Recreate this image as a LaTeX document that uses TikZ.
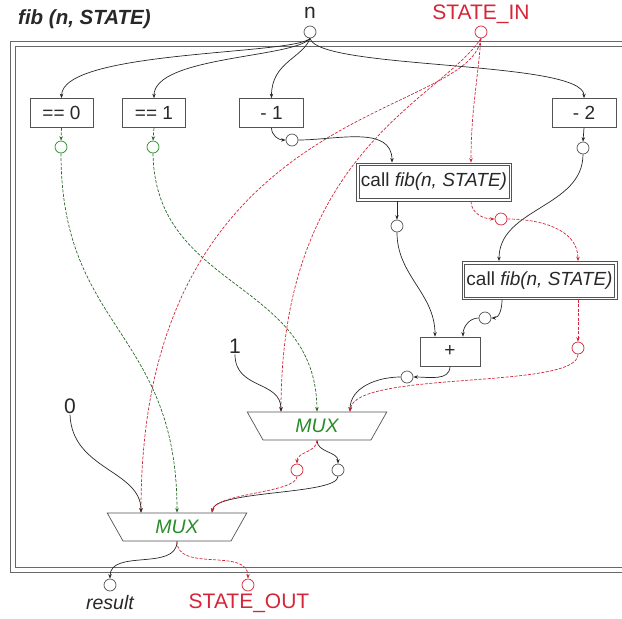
\documentclass[tikz,border=0pt]{standalone}
\usepackage{fontspec}
\setmainfont{Liberation Sans}
\usetikzlibrary{arrows.meta,shapes.geometric,calc,fit}
\definecolor{sred}{RGB}{212,38,56}
\definecolor{sgreen}{RGB}{40,140,40}
\definecolor{sgdash}{RGB}{40,105,40}
\definecolor{ink}{RGB}{40,40,40}
\begin{document}
\begin{tikzpicture}[x=1pt,y=-1pt,
 tip/.style={-{Stealth[length=4.5pt,width=3.5pt]}},
 wire/.style={draw=ink,line width=0.7pt,tip},
 rwire/.style={draw=sred,line width=0.7pt,dash pattern=on 3pt off 1.5pt,tip},
 gwire/.style={draw=sgdash,line width=0.7pt,dash pattern=on 3pt off 1.5pt,tip},
 box/.style={draw=ink!80,line width=0.7pt,minimum height=29pt,inner sep=2pt,font=\fontsize{19}{21}\selectfont,text=ink},
 callbox/.style={box,minimum height=33pt},
 outerbox/.style={draw=ink!80,line width=0.7pt,inner sep=2.2pt},
 port/.style={circle,draw=ink!80,line width=0.7pt,minimum size=12pt,inner sep=0pt,fill=white},
 rport/.style={port,draw=sred},
 gport/.style={port,draw=sgreen},
 lbl/.style={font=\fontsize{21}{23}\selectfont,text=ink,inner sep=1pt},
 mux/.style={trapezium,shape border rotate=180,trapezium stretches=true,draw=ink!80,line width=0.7pt,minimum width=140pt,minimum height=28pt,trapezium angle=65,font=\fontsize{19.5}{21}\selectfont\itshape,text=sgreen,inner sep=0pt}
]
\useasboundingbox (0,0) rectangle (622,619);
% outer frame
\draw[draw=ink!70,line width=0.8pt] (10,41) rectangle (640,572);
\draw[draw=ink!70,line width=0.8pt] (15,46) rectangle (640,567);

\node[lbl,font=\fontsize{20.5}{22}\selectfont\bfseries\itshape,anchor=west] (title) at (17,19) {fib (n, STATE)};
\node[lbl] (nlab) at (310,13) {n};
\node[port] (nin) at (310,32) {};
\node[lbl,text=sred] (silab) at (481,14) {STATE\_IN};
\node[rport] (sin) at (481,32) {};

\node[box,minimum width=63pt] (e0) at (61.5,113) {== 0};
\node[box,minimum width=63pt] (e1) at (154,113) {== 1};
\node[box,minimum width=64pt] (d1) at (271.5,113) {- 1};
\node[box,minimum width=64pt] (d2) at (584,113) {- 2};
\node[gport] (e0o) at (61,147) {};
\node[gport] (e1o) at (153,147) {};
\node[port] (d1o) at (292,140) {};
\node[port] (d2o) at (583,148) {};

\node[callbox,minimum width=150pt] (call1) at (434,182) {call \textit{fib(n, STATE)}};
\node[outerbox,fit=(call1)] (call1f) {};
\node[port] (c1o) at (397,226) {};
\node[rport] (rs1) at (501,219) {};
\node[callbox,minimum width=150pt] (call2) at (539.5,280.5) {call \textit{fib(n, STATE)}};
\node[outerbox,fit=(call2)] (call2f) {};
\node[port] (c2o) at (485,318) {};
\node[rport] (rs2) at (578,348) {};
\node[box,minimum width=60pt] (plus) at (450,351.5) {+};
\node[port] (po) at (407,377) {};

\node[lbl] (one) at (235,346) {1};
\node[lbl] (zero) at (70,406) {0};
\node[mux] (mux1) at (317,426) {MUX};
\node[rport] (mr1) at (297,470) {};
\node[port] (mb1) at (338,470) {};
\node[mux] (mux2) at (177,527) {MUX};
\node[port] (res) at (110,585) {};
\node[rport] (sout) at (248,585) {};
\node[lbl,font=\fontsize{19.5}{21}\selectfont\itshape] (reslab) at (110,603) {result};
\node[lbl,text=sred] (soutlab) at (249,603) {STATE\_OUT};

% black wires from n
\draw[wire] (nin.south) .. controls (295,55) and (62,50) .. (e0.north);
\draw[wire] (nin.south) .. controls (295,58) and (154,56) .. (e1.north);
\draw[wire] (nin.south) .. controls (303,58) and (271.5,62) .. (d1.north);
\draw[wire] (nin.south) .. controls (318,70) and (584,60) .. (d2.north);

\draw[gwire] (e0.south) -- (e0o.north);
\draw[gwire] (e1.south) -- (e1o.north);
\draw[wire] (d1.south) to[out=-90,in=180] (d1o.west);
\draw[wire] (d1o.east) to[out=0,in=90] ([xshift=-42pt]call1f.north);
\draw[wire] ([xshift=-37pt]call1f.south) -- (c1o.north);
\draw[wire] (c1o.south) to[out=-90,in=90] ([xshift=-15pt]plus.north);
\draw[wire] (d2.south) -- (d2o.north);
\draw[wire] (d2o.south) to[out=-90,in=90] ([xshift=-40.5pt]call2f.north);
\draw[wire] ([xshift=-37.5pt]call2f.south) to[out=-90,in=0] (c2o.east);
\draw[wire] (c2o.west) to[out=180,in=90] ([xshift=13pt]plus.north);
\draw[wire] (plus.south) to[out=-90,in=0] (po.east);
\draw[wire] (po.west) to[out=180,in=90] ([xshift=33pt]mux1.north);

% red state wires
\draw[rwire] (sin.south) to[out=-95,in=90] ([xshift=37pt]call1f.north);
\draw[rwire] (sin.south) .. controls (440,100) and (281,150) .. ([xshift=-36pt]mux1.north);
\draw[rwire] (sin.south) .. controls (470,120) and (141,100) .. ([xshift=-36pt]mux2.north);
\draw[rwire] ([xshift=37pt]call1f.south) to[out=-90,in=180] (rs1.west);
\draw[rwire] (rs1.east) to[out=0,in=90] ([xshift=38.5pt]call2f.north);
\draw[rwire] ([xshift=38.5pt]call2f.south) -- (rs2.north);
\draw[rwire] (rs2.south) .. controls (578,390) and (355,370) .. ([xshift=33pt]mux1.north);

% muxes
\draw[wire] (one.south) .. controls (235,390) and (281,380) .. ([xshift=-36pt]mux1.north);
\draw[gwire] (e1o.south) .. controls (155,290) and (316,280) .. (mux1.north);
\draw[rwire] (mux1.south) to[out=-90,in=90] (mr1.north);
\draw[wire] (mux1.south) to[out=-90,in=90] (mb1.north);
\draw[wire] (mb1.south) .. controls (338,495) and (215,490) .. ([xshift=35pt]mux2.north);
\draw[rwire] (mr1.south) .. controls (297,493) and (215,493) .. ([xshift=35pt]mux2.north);
\draw[wire] (zero.south) .. controls (72,470) and (141,470) .. ([xshift=-36pt]mux2.north);
\draw[gwire] (e0o.south) .. controls (61,330) and (177,330) .. (mux2.north);
\draw[wire] (mux2.south) to[out=-90,in=90] (res.north);
\draw[rwire] (mux2.south) to[out=-90,in=90] (sout.north);
\end{tikzpicture}
\end{document}
